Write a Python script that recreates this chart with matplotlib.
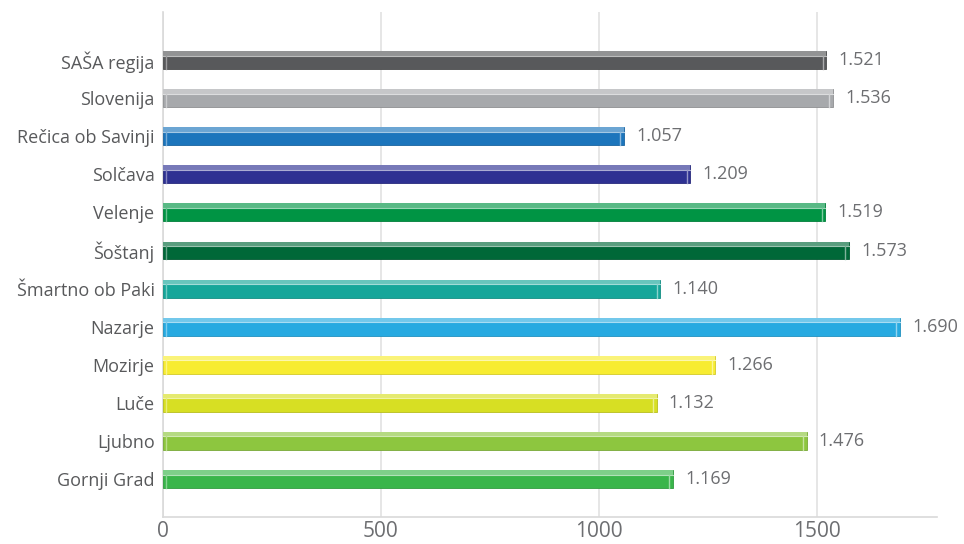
import numpy as np
import matplotlib.pyplot as plt
from matplotlib.colors import to_rgb

regions = ['SAŠA regija', 'Slovenija', 'Rečica ob Savinji', 'Solčava', 'Velenje', 'Šoštanj',
           'Šmartno ob Paki', 'Nazarje', 'Mozirje', 'Luče', 'Ljubno', 'Gornji Grad']
values = [1521, 1536, 1057, 1209, 1519, 1573, 1140, 1690, 1266, 1132, 1476, 1169]
value_labels = ['1.521', '1.536', '1.057', '1.209', '1.519', '1.573',
                '1.140', '1.690', '1.266', '1.132', '1.476', '1.169']
colors = ['#58595b', '#a7a9ac', '#1c75bc', '#2e3192', '#009444', '#006838',
          '#16a69a', '#27aae1', '#f7ec31', '#d7df23', '#8dc63f', '#39b54a']
xticks = [0, 500, 1000, 1500]


def lighten(c, f):
    r = np.array(to_rgb(c))
    return tuple(r + (1 - r) * f)


def darken(c, f):
    r = np.array(to_rgb(c))
    return tuple(r * (1 - f))


plt.rcParams['font.family'] = ['Open Sans', 'DejaVu Sans']

fig = plt.figure(figsize=(9.64, 5.44), dpi=100)
ax = fig.add_axes([0.169, 0.0496, 0.803, 0.928])

y = np.arange(len(regions))
h = 0.47
for i, (v, c) in enumerate(zip(values, colors)):
    top = i - h / 2
    # main body
    ax.barh(i, v, height=h, color=c, edgecolor=darken(c, 0.15), linewidth=0.6, zorder=3)
    # lighter top face
    ax.barh(top + 0.06, v, height=0.12, color=lighten(c, 0.35), linewidth=0, zorder=4)
    ax.plot([0, v], [top + 0.12, top + 0.12], color=lighten(c, 0.6), lw=0.8, zorder=5)
    # bevels at both ends
    ax.plot([v - 8, v - 8], [top + 0.12, i + h / 2], color=lighten(c, 0.5), lw=1.0, zorder=5)
    ax.plot([8, 8], [top + 0.12, i + h / 2], color=lighten(c, 0.4), lw=1.0, zorder=5)
    ax.text(v + 28, i, value_labels[i], va='center', ha='left', fontsize=13, color='#6d6e71')

ax.set_xlim(0, 1775)
ax.set_ylim(len(regions) - 1 + 1.0, -1.26)
ax.set_yticks(y)
ax.set_yticklabels(regions, fontsize=13, color='#58595b')
ax.set_xticks(xticks)
ax.set_xticklabels([str(t) for t in xticks], fontsize=15, color='#6d6e71')
ax.tick_params(axis='y', length=0, pad=6)
ax.tick_params(axis='x', length=0, pad=3)
ax.xaxis.grid(True, color='#e2e2e2', lw=1.2, zorder=0)
ax.set_axisbelow(True)
for s in ['top', 'right']:
    ax.spines[s].set_visible(False)
ax.spines['left'].set_color('#d9d9d9')
ax.spines['bottom'].set_color('#d9d9d9')
ax.spines['left'].set_linewidth(1.2)
ax.spines['bottom'].set_linewidth(1.2)

fig.savefig('out.png', dpi=100)
